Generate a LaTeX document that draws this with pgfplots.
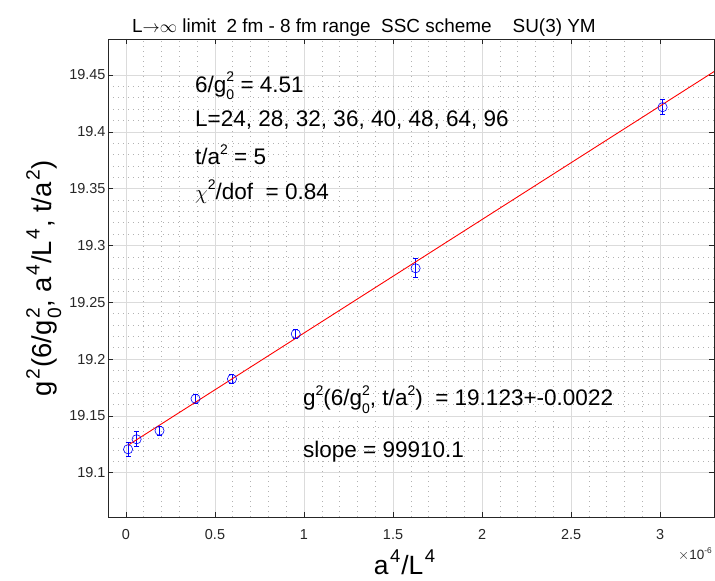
\documentclass[border=0pt]{standalone}
\usepackage{fontspec}
\setmainfont{Liberation Sans}
\usepackage{graphicx}
\usepackage{pgfplots}
\pgfplotsset{compat=1.18}
\usepackage{pgfplotstable}
\usetikzlibrary{calc}
\newcommand\sps[1]{\raisebox{0.45em}{\scalebox{0.62}{#1}}}
\newcommand\sbs[1]{\raisebox{-0.33em}{\scalebox{0.62}{#1}}}
\newcommand\gz{g\rlap{\sbs{0}}\sps{2}}
% label-size superscripts (slightly larger, with a little space)
\newcommand\lsp[1]{\kern0.06em\raisebox{0.45em}{\scalebox{0.7}{#1}}\kern0.03em}
\newcommand\lsb[1]{\raisebox{-0.33em}{\scalebox{0.7}{#1}}}
\newcommand\lgz{g\kern0.06em\rlap{\lsb{0}}\raisebox{0.45em}{\scalebox{0.7}{2}}\kern0.03em}
\newcommand\fs[1]{\fontsize{#1}{#1}\selectfont}

\pgfplotstableread{
x       y        e
0.0118  19.1206  0.0064
0.0596  19.1294  0.0066
0.1884  19.1370  0.0040
0.3906  19.1651  0.0040
0.5954  19.1825  0.0040
0.9537  19.2221  0.0040
1.6269  19.2799  0.0083
3.0141  19.4217  0.0064
}\datatab

\begin{document}
\begin{tikzpicture}
\begin{axis}[
  name=ax,
  scale only axis, width=606bp, height=478bp,
  xmin=-0.101, xmax=3.303, ymin=19.061, ymax=19.4817,
  clip=false,
  axis line style={black!85, line width=0.6bp},
  xtick={0,0.5,1,1.5,2,2.5,3},
  ytick={19.1,19.15,19.2,19.25,19.3,19.35,19.4,19.45},
  yticklabels={19.1,19.15,19.2,19.25,19.3,19.35,19.4,19.45},
  minor x tick num=4, minor y tick num=4,
  grid=both,
  major grid style={black!14, line width=0.6bp},
  minor grid style={black!30, line width=0.6bp, dash pattern=on 0.8bp off 4.2bp},
  tick align=inside,
  major tick length=5bp, minor tick length=0pt,
  tick style={black!85, line width=0.6bp},
  /pgf/number format/assume math mode=true,
  /pgf/number format/fixed,
  ticklabel style={font=\fs{14.5}, text=black!85},
  xticklabel style={yshift=-9bp},
  yticklabel style={xshift=1bp},
  xlabel={a\lsp{4}/L\lsp{4}},
  ylabel={g\lsp{2}(6/\lgz, a\lsp{4}/L\lsp{4}, t/a\lsp{2})},
  xlabel style={font=\fs{26.5}, at={(rel axis cs:0.49,0)}, anchor=base, yshift=-57bp},
  ylabel style={font=\fs{27.5}, at={(rel axis cs:-0.0924,0.5)}, anchor=base},
]
\addplot[blue, only marks, mark=o, mark size=4.6bp, mark options={line width=0.6bp},
  error bars/.cd, y dir=both, y explicit,
  error bar style={blue, line width=0.8bp},
  error mark options={rotate=90, mark size=2.5bp, blue, line width=0.8bp}]
  table[x=x, y=y, y error=e] {\datatab};
\addplot[red, line width=0.9bp] coordinates {(0.0118,19.1242) (3.303,19.4530)};

\node[anchor=base, font=\fs{19}] at (axis cs:1.337,19.4875)
  {L$\mathord{\rightarrow}\mathord{\infty}$ limit\ \ 2 fm - 8 fm range\ \ SSC scheme\ \ \ \ SU(3) YM};
\node[anchor=base west, font=\fs{22.6}, inner sep=0pt] at (axis cs:0.3876,19.4350) {6/\gz{} = 4.51};
\node[anchor=base west, font=\fs{22.6}, inner sep=0pt] at (axis cs:0.3876,19.4043) {L=24, 28, 32, 36, 40, 48, 64, 96};
\node[anchor=base west, font=\fs{22.6}, inner sep=0pt] at (axis cs:0.3876,19.3709) {t/a\sps{2} = 5};
\node[anchor=base west, font=\fs{22.6}, inner sep=0pt] at (axis cs:0.3876,19.3400) {$\chi$\sps{2}/dof\ \ = 0.84};
\node[anchor=base west, font=\fs{22.6}, inner sep=0pt] at (axis cs:0.994,19.1587) {g\sps{2}(6/\gz, t/a\sps{2})\ \ = 19.123+-0.0022};
\node[anchor=base west, font=\fs{22.6}, inner sep=0pt] at (axis cs:0.994,19.1130) {slope = 99910.1};
\node[anchor=base west, font=\fs{13.5}, text=black!85, inner sep=0pt] at (axis cs:3.101,19.0232) {$\times$10\sps{-6}};
\end{axis}
\pgfresetboundingbox
\path[use as bounding box] ($(ax.south west)+(-108bp,-64bp)$) rectangle ($(ax.north east)+(1bp,39bp)$);
\end{tikzpicture}
\end{document}
